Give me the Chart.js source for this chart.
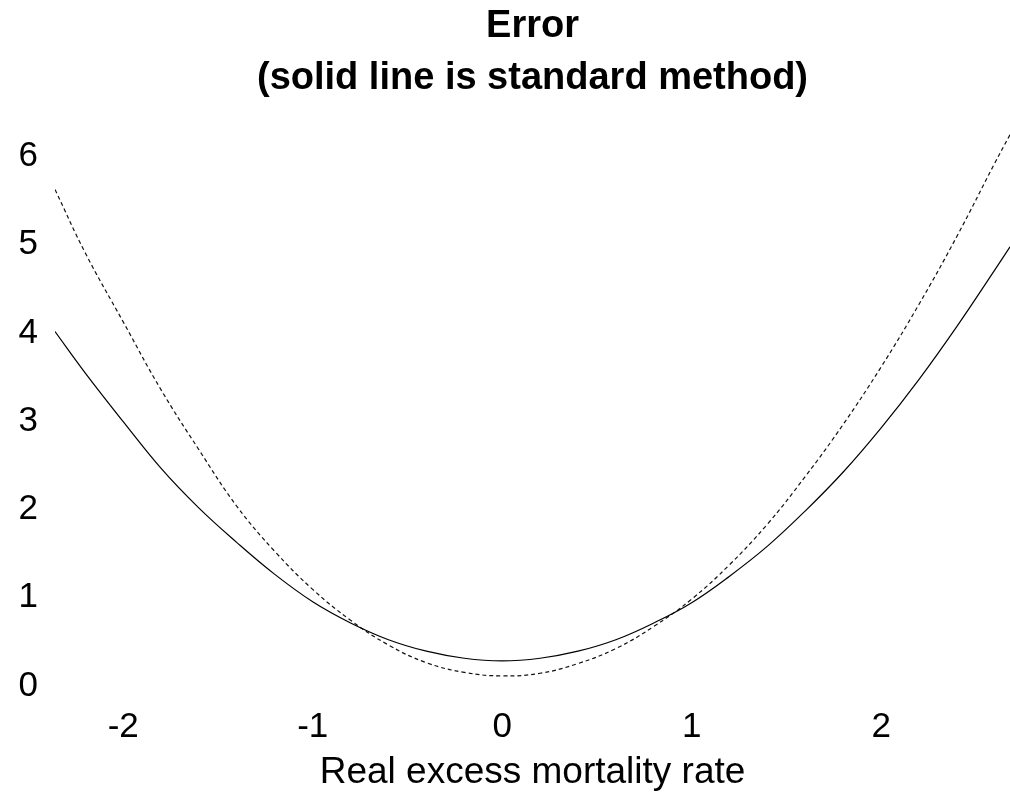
<!DOCTYPE html>
<html>
<head>
<meta charset="utf-8">
<script src="https://cdn.jsdelivr.net/npm/chart.js@4"></script>
<style>
  html, body { margin: 0; padding: 0; background: #fff; }
  #wrap { width: 1010px; height: 795px; position: relative; }
</style>
</head>
<body>
<div id="wrap"><canvas id="errorChart"></canvas></div>
<script>
// values
const rates = [-2.36, -2.2, -2.0, -1.8, -1.6, -1.4, -1.2, -1.0, -0.8, -0.6, -0.4, -0.2, 0,
               0.2, 0.4, 0.6, 0.8, 1.0, 1.2, 1.4, 1.6, 1.8, 2.0, 2.2, 2.4, 2.6, 2.68];
const standardError = [3.97, 3.50, 2.95, 2.42, 1.97, 1.58, 1.22, 0.91, 0.67, 0.48, 0.35, 0.27, 0.24,
                       0.27, 0.35, 0.48, 0.67, 0.90, 1.20, 1.54, 1.94, 2.38, 2.88, 3.43, 4.03, 4.67, 4.93];
const newError = [5.58, 4.86, 4.08, 3.31, 2.63, 1.99, 1.48, 1.05, 0.70, 0.42, 0.22, 0.11, 0.07,
                  0.10, 0.21, 0.38, 0.63, 0.94, 1.33, 1.79, 2.33, 2.92, 3.57, 4.28, 5.05, 5.88, 6.20];
const xTicks = [-2, -1, 0, 1, 2];
const yTicks = [0, 1, 2, 3, 4, 5, 6];

const font = 'Liberation Sans';
const ctx = document.getElementById('errorChart');

new Chart(ctx, {
    type: 'line',
    data: {
        datasets: [{
            label: 'standard method',
            data: rates.map((x, i) => ({ x: x, y: standardError[i] })),
            borderColor: '#000',
            borderWidth: 1.2,
            pointRadius: 0,
            tension: 0.4,
            fill: false
        }, {
            label: 'other method',
            data: rates.map((x, i) => ({ x: x, y: newError[i] })),
            borderColor: '#111',
            borderWidth: 1.2,
            borderDash: [4, 3],
            pointRadius: 0,
            tension: 0.4,
            fill: false
        }]
    },
    options: {
        responsive: true,
        maintainAspectRatio: false,
        animation: false,
        layout: { padding: 0 },
        plugins: {
            legend: { display: false },
            tooltip: { enabled: false },
            title: {
                display: true,
                fullSize: false,
                text: ['Error', '(solid line is standard method)'],
                color: '#000',
                font: { family: font, size: 38, weight: 'bold', lineHeight: 1.38 },
                padding: { top: 0, bottom: 6 }
            }
        },
        scales: {
            x: {
                type: 'linear',
                min: -2.36,
                max: 2.68,
                grid: { display: false, drawTicks: false },
                border: { display: false },
                afterBuildTicks: scale => { scale.ticks = xTicks.map(v => ({ value: v })); },
                afterFit: scale => { scale.height = 97; },
                ticks: {
                    color: '#000',
                    padding: 8,
                    font: { family: font, size: 35 }
                },
                title: {
                    display: true,
                    text: 'Real excess mortality rate',
                    color: '#000',
                    padding: 0,
                    font: { family: font, size: 37 }
                }
            },
            y: {
                min: -0.18,
                max: 6.47,
                grid: { display: false, drawTicks: false },
                border: { display: false },
                afterBuildTicks: scale => { scale.ticks = yTicks.map(v => ({ value: v })); },
                afterFit: scale => { scale.width = 55; },
                ticks: {
                    color: '#000',
                    padding: 17,
                    labelOffset: 4,
                    font: { family: font, size: 35 }
                }
            }
        }
    }
});
</script>
</body>
</html>
